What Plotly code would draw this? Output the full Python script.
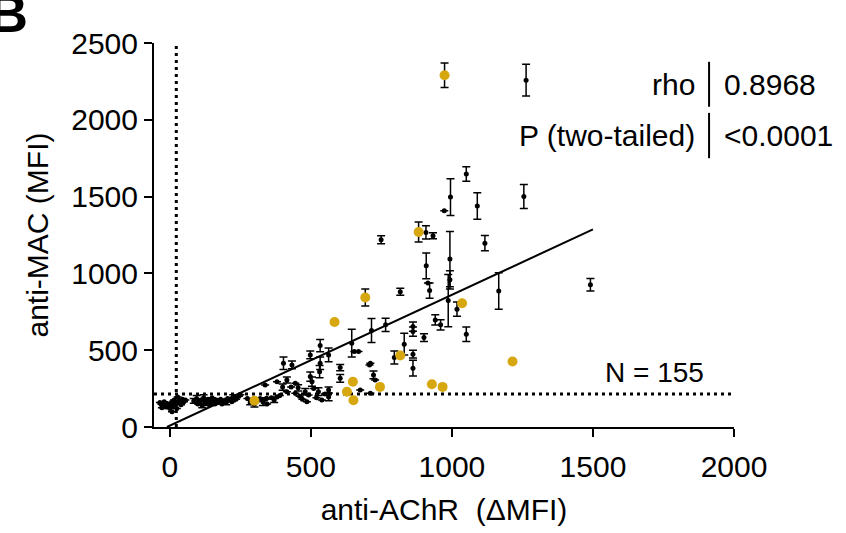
import plotly.graph_objects as go

# ---- data ----
# black points: anti-AChR (x), anti-MAC (y), error (SD)
black_x = [
    -35, -30, -25, -20, -15, -10, -5, 0, 5, 10, 15, 20, 25, 30, 35, 40, 45, 50, 55, -28, 8, 28,
    85, 95, 100, 105, 110, 115, 120, 125, 130, 135, 140, 145, 150, 155, 160, 165, 170, 180, 185, 190,
    200, 205, 210, 220, 225, 235, 245, 250,
    275, 285, 290, 300, 310, 320, 330, 340, 345, 360, 370, 380, 390,
    403, 433, 415, 445, 380, 338, 343, 498, 533, 563, 533, 531, 498, 504, 492, 486, 527, 539, 563, 563,
    445, 460, 470, 510, 520, 550, 480, 415, 400, 430, 455,
    604, 604, 645, 669, 654, 708, 711, 722, 728, 675, 711, 715, 765, 749, 796, 817, 831, 862, 862, 862,
    862, 901, 941, 960, 909, 915, 921, 908, 933, 993, 993, 987, 1018, 1051, 1117, 1166, 973, 995, 1051,
    1090, 1255, 1263, 1491,
]
black_y = [
    160, 150, 140, 165, 130, 150, 145, 120, 160, 135, 175, 150, 120, 160, 170, 145, 180, 165, 175, 125, 100, 195,
    170, 185, 150, 160, 175, 140, 190, 165, 155, 180, 145, 170, 190, 160, 150, 175, 165, 180, 150, 170,
    160, 185, 175, 165, 195, 180, 200, 210,
    185, 160, 175, 150, 170, 185, 165, 180, 150, 190, 175, 195, 205,
    415, 404, 306, 285, 295, 274, 187, 469, 530, 469, 415, 360, 328, 295, 209, 165, 230, 176, 241, 196,
    220, 200, 180, 250, 190, 215, 230, 230, 260, 260, 255,
    387, 317, 546, 491, 491, 404, 415, 339, 306, 241, 220, 628, 665, 1219, 452, 880, 539, 654, 621, 474,
    383, 582, 697, 665, 1049, 937, 888, 1267, 1245, 1093, 958, 823, 767, 604, 1197, 886, 1408, 1497, 1647,
    1439, 1501, 2258, 926,
]
black_err = [
    0, 0, 0, 0, 0, 0, 0, 0, 0, 0, 0, 0, 0, 0, 0, 0, 0, 0, 0, 0, 0, 0,
    15, 20, 0, 15, 0, 15, 20, 0, 15, 0, 0, 20, 0, 15, 0, 0, 15, 0, 0, 0,
    15, 0, 0, 0, 15, 0, 0, 0,
    0, 15, 0, 20, 0, 0, 25, 0, 0, 0, 15, 0, 0,
    40, 25, 20, 0, 0, 0, 0, 25, 40, 45, 40, 40, 30, 30, 0, 0, 25, 0, 20, 25,
    0, 0, 0, 0, 0, 0, 20, 0, 20, 0, 20,
    20, 25, 90, 0, 0, 0, 0, 25, 0, 0, 0, 78, 43, 26, 42, 23, 71, 30, 30, 25,
    51, 25, 33, 33, 84, 0, 50, 43, 20, 180, 60, 170, 46, 47, 50, 119, 0, 120, 47,
    86, 78, 103, 40,
]

# gold (highlighted) points
gold_x = [974, 882, 584, 693, 1036, 817, 1215, 929, 967, 649, 628, 745, 651, 300]
gold_y = [2290, 1269, 684, 843, 806, 465, 426, 278, 261, 295, 230, 261, 174, 171]
gold_err = [80, 65, 0, 55, 0, 0, 0, 0, 0, 0, 0, 0, 0, 0]

# thresholds and regression
x_threshold = 23
y_threshold = 215
fit_slope = 0.852
fit_intercept = 8.5
fit_x = [-10, 1500]

x_ticks = [0, 500, 1000, 1500, 2000]
y_ticks = [0, 500, 1000, 1500, 2000, 2500]
x_range = [-56, 2000]
y_range = [0, 2500]

FONT = "Liberation Sans, Arial, Helvetica, sans-serif"
FS = 30

fig = go.Figure()

# dotted threshold lines
fig.add_trace(go.Scatter(x=[x_threshold, x_threshold], y=y_range, mode="lines",
                         line=dict(color="black", width=3, dash="3px,4px"),
                         hoverinfo="skip", showlegend=False))
fig.add_trace(go.Scatter(x=x_range, y=[y_threshold, y_threshold], mode="lines",
                         line=dict(color="black", width=3, dash="3px,4px"),
                         hoverinfo="skip", showlegend=False))

# regression line
fig.add_trace(go.Scatter(x=fit_x, y=[fit_slope * v + fit_intercept for v in fit_x], mode="lines",
                         line=dict(color="black", width=2), showlegend=False))

# black points with error bars
fig.add_trace(go.Scatter(x=black_x, y=black_y, mode="markers",
                         marker=dict(color="black", size=5),
                         error_y=dict(type="data", array=black_err, visible=True,
                                      color="black", thickness=1.5, width=4),
                         showlegend=False))

# gold points
fig.add_trace(go.Scatter(x=gold_x, y=gold_y, mode="markers",
                         marker=dict(color="#D6A70E", size=10),
                         error_y=dict(type="data", array=gold_err, visible=True,
                                      color="black", thickness=1.5, width=4),
                         showlegend=False))

axis_common = dict(showgrid=False, zeroline=False, showline=True, linecolor="black", linewidth=2,
                   ticks="outside", ticklen=8, tickwidth=2, tickcolor="black",
                   tickfont=dict(family=FONT, size=FS, color="black"))

fig.update_layout(
    width=846, height=533,
    margin=dict(l=154, r=112, t=43, b=106),
    paper_bgcolor="white", plot_bgcolor="white",
    font=dict(family=FONT, size=FS, color="black"),
    xaxis=dict(range=x_range, tickvals=x_ticks, ticklabelstandoff=4,
               title=dict(text="anti-AChR \u00a0(\u0394MFI)", font=dict(family=FONT, size=FS), standoff=17),
               **axis_common),
    yaxis=dict(range=y_range, tickvals=y_ticks,
               title=dict(text="anti-MAC (MFI)", font=dict(family=FONT, size=FS), standoff=14),
               **axis_common),
)

# stats box
fig.add_annotation(xref="paper", yref="paper", x=0.936, y=0.891, text="rho", showarrow=False,
                   xanchor="right", yanchor="middle", font=dict(family=FONT, size=FS))
fig.add_annotation(xref="paper", yref="paper", x=0.979, y=0.891, text="0.8968", showarrow=False,
                   xanchor="left", yanchor="middle", font=dict(family=FONT, size=FS))
fig.add_annotation(xref="paper", yref="paper", x=0.936, y=0.760, text="P (two-tailed)", showarrow=False,
                   xanchor="right", yanchor="middle", font=dict(family=FONT, size=FS))
fig.add_annotation(xref="paper", yref="paper", x=0.979, y=0.760, text="<0.0001", showarrow=False,
                   xanchor="left", yanchor="middle", font=dict(family=FONT, size=FS))
fig.add_shape(type="line", xref="paper", yref="paper", x0=0.957, x1=0.957, y0=0.834, y1=0.951,
              line=dict(color="black", width=2))
fig.add_shape(type="line", xref="paper", yref="paper", x0=0.957, x1=0.957, y0=0.700, y1=0.818,
              line=dict(color="black", width=2))

fig.add_annotation(x=1718, y=358, text="N = 155", showarrow=False, xanchor="center", yanchor="middle",
                   font=dict(family=FONT, size=28))

# panel letter (partially cut at the top-left corner, as in the original figure)
fig.add_annotation(xref="paper", yref="paper", x=-0.2138, y=1.079, text="<b>B</b>", showarrow=False,
                   xanchor="right", yanchor="middle", font=dict(family=FONT, size=54))

fig.write_html("out.html", config={"displayModeBar": False},
               post_script="document.body.style.margin='0';")
